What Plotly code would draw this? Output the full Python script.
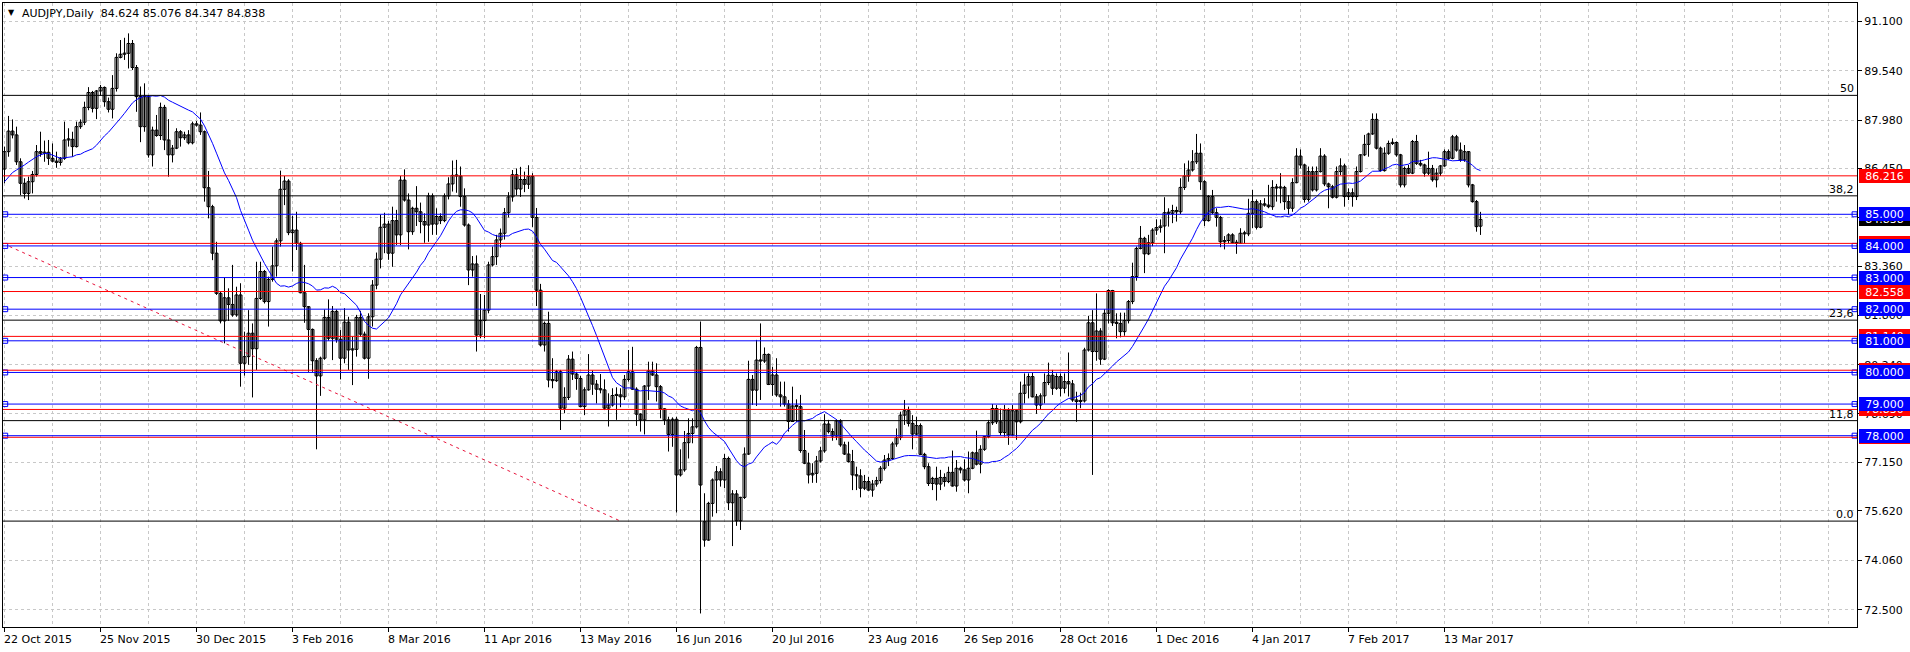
import plotly.graph_objects as go
import pandas as pd

title_text = "AUDJPY,Daily  84.624 85.076 84.347 84.838"

opens = [
86.43,86.98,87.63,87.51,86.66,85.98,85.66,86.03,86.26,86.98,
86.93,86.96,86.77,86.68,86.64,86.77,87.35,87.37,87.14,87.77,
87.91,88.38,88.85,88.35,88.90,89.01,88.56,88.32,88.98,89.96,
90.06,90.09,90.40,89.64,88.72,87.77,88.72,86.88,87.66,87.49,
88.38,87.35,86.88,87.09,87.61,87.42,87.51,87.26,87.86,87.82,
87.61,85.84,85.24,83.77,82.50,81.63,82.36,82.15,81.82,82.45,
80.29,80.50,81.24,80.75,82.34,83.19,82.24,82.94,83.37,84.16,
85.79,86.05,84.42,84.50,84.08,82.52,82.08,81.36,80.37,79.89,
80.45,81.74,81.08,81.93,81.05,80.45,81.59,80.71,80.73,81.74,
81.21,80.45,81.76,82.76,83.58,84.59,84.69,83.77,84.80,84.35,
86.08,85.45,84.45,85.19,85.08,84.77,84.66,85.58,84.69,84.93,
84.80,85.58,85.96,86.23,86.21,85.56,84.66,83.24,83.43,81.18,
81.64,81.97,83.40,83.66,84.19,84.40,85.05,85.55,86.25,85.80,
86.10,85.95,86.20,84.90,82.60,80.87,81.55,79.76,79.74,80.02,
78.87,79.21,80.42,79.95,79.81,78.92,79.45,79.92,79.63,79.47,
79.45,78.87,78.97,79.27,79.29,79.23,79.78,80.02,79.47,78.68,
78.50,79.57,80.05,79.92,79.55,78.85,78.50,78.04,78.52,76.76,
76.92,77.78,78.07,78.28,80.79,75.28,74.70,75.86,76.60,76.86,
76.60,77.28,75.88,76.16,75.31,76.05,77.42,79.78,79.44,80.39,
80.36,80.57,79.62,79.92,79.29,79.23,79.00,78.45,78.94,78.92,
77.53,77.13,76.76,76.81,77.20,77.52,78.37,78.13,77.99,78.47,
77.71,77.42,77.18,76.76,76.73,76.34,76.55,76.28,76.47,76.58,
76.97,77.23,77.28,77.74,77.94,78.65,78.79,78.39,78.05,78.32,
77.41,77.02,76.49,76.65,76.47,76.68,76.55,76.84,76.41,76.97,
76.92,76.60,76.97,77.46,77.10,77.57,77.97,78.41,78.86,78.44,
78.10,78.81,78.02,78.79,78.44,79.34,79.60,79.87,79.23,78.97,
79.26,79.68,79.91,79.50,79.87,79.50,79.71,79.64,79.13,79.08,
79.10,80.71,81.57,80.66,81.31,80.42,81.87,82.59,81.57,81.55,
81.29,81.64,82.24,83.03,83.92,84.24,83.75,84.10,84.50,84.58,
84.63,85.05,85.03,85.12,85.08,85.85,86.21,86.40,86.66,86.93,
86.03,84.80,85.56,85.05,84.90,84.13,84.17,84.35,84.10,84.08,
84.40,84.38,85.03,85.40,84.59,85.33,85.29,85.24,85.85,85.83,
85.85,85.40,85.19,86.00,86.84,86.56,85.47,86.35,85.77,86.35,
86.84,85.96,85.87,85.54,86.35,86.53,85.56,85.68,85.56,86.35,
86.88,87.21,87.54,88.00,87.09,86.38,86.93,87.24,87.27,86.88,
85.93,86.45,86.30,87.30,86.61,86.56,86.30,86.45,86.09,86.30,
86.53,86.98,86.77,87.45,87.03,86.72,86.98,85.93,85.40,84.624]

highs = [
87.14,88.11,88.00,87.77,86.77,86.14,86.19,86.37,87.19,87.61,
87.33,87.35,87.24,86.98,86.81,87.93,87.72,87.61,87.93,88.00,
88.56,89.02,88.90,88.93,89.09,89.04,88.69,89.40,90.09,90.51,
90.58,90.72,90.51,89.72,89.04,89.14,88.77,87.77,88.14,88.53,
88.46,88.01,87.19,87.72,87.66,87.61,87.66,87.93,87.95,88.22,
87.65,86.37,85.30,84.13,82.55,83.00,82.66,83.40,82.71,82.82,
81.29,81.97,81.55,83.50,83.50,83.24,83.03,83.98,84.24,86.38,
86.21,86.11,84.95,85.08,84.13,83.40,82.10,81.39,80.45,80.50,
81.99,82.31,82.10,81.99,81.34,82.03,81.76,81.13,81.82,81.95,
81.29,81.87,82.92,83.79,84.98,85.05,84.79,85.24,85.14,86.21,
86.42,85.66,85.24,85.89,85.37,85.03,85.68,85.66,85.19,85.03,
85.66,86.17,86.70,86.72,86.51,85.82,84.71,83.68,83.70,82.48,
82.45,83.50,83.98,84.35,84.55,85.20,85.70,86.40,86.45,86.50,
86.35,86.55,86.30,85.20,82.80,81.61,81.92,80.45,80.08,80.08,
79.53,80.55,80.66,80.02,79.89,79.53,80.58,80.06,79.76,79.95,
79.78,79.34,79.50,79.53,79.50,79.92,80.71,80.81,79.53,78.71,
79.60,80.34,80.34,80.29,79.60,78.87,78.60,78.58,78.60,77.57,
78.15,78.55,78.55,80.84,81.61,76.18,75.91,76.65,77.04,76.97,
77.42,77.34,76.28,76.28,76.07,77.63,80.37,79.92,81.03,81.55,
80.79,80.60,80.18,80.45,79.71,79.71,79.13,79.55,79.15,79.29,
78.18,77.46,77.13,77.36,77.65,78.68,78.50,78.23,78.52,78.52,
77.81,77.81,77.55,77.02,76.94,76.76,76.70,76.60,76.70,77.04,
77.39,77.44,77.81,78.23,78.76,79.13,78.92,78.65,78.60,78.39,
77.46,77.13,76.70,77.02,76.92,76.81,77.02,77.53,77.23,77.02,
77.25,77.50,77.50,78.16,77.70,77.99,78.50,79.00,78.97,78.86,
78.97,78.87,78.97,78.83,79.71,79.97,79.97,79.99,79.32,79.34,
79.97,80.31,80.08,79.97,79.97,79.97,80.63,79.76,79.39,79.36,
80.78,81.79,81.97,82.50,81.40,82.00,82.63,82.61,81.87,81.89,
81.89,82.29,83.47,83.98,84.63,84.29,84.35,84.56,84.84,84.84,
85.54,85.19,85.30,85.24,86.14,86.61,86.70,87.03,87.54,87.24,
86.08,85.61,85.77,85.19,84.95,84.31,84.40,84.40,84.19,84.56,
84.48,85.49,85.77,85.47,85.45,85.51,85.93,86.08,85.96,86.30,
85.90,85.61,86.14,87.09,87.05,86.60,86.51,86.51,86.51,87.09,
86.90,86.00,85.93,86.51,86.77,86.60,85.82,85.82,86.51,86.90,
87.51,87.58,88.19,88.19,87.14,87.12,87.33,87.40,87.30,86.91,
86.51,86.56,87.35,87.51,86.72,86.60,86.98,86.56,86.45,86.56,
87.05,87.05,87.51,87.51,87.27,87.19,87.00,85.96,85.45,85.076]

lows = [
85.98,86.82,87.40,86.56,85.61,85.50,85.45,85.66,86.19,86.82,
86.66,86.56,86.64,86.47,86.54,86.72,87.14,86.82,87.11,87.70,
87.82,88.29,88.22,88.01,88.75,88.40,88.22,88.03,88.88,89.93,
89.88,89.61,89.56,88.24,87.28,87.61,86.79,86.51,87.45,87.35,
87.03,86.19,86.64,87.06,87.14,87.35,87.21,87.21,87.77,87.51,
85.40,84.87,83.55,82.45,81.55,80.92,81.63,81.76,81.76,79.55,
79.90,80.24,79.21,80.08,82.29,82.18,81.45,82.87,83.03,83.98,
85.29,84.34,83.19,83.87,82.50,81.57,80.02,80.02,77.57,79.26,
80.40,81.00,80.39,80.94,79.78,80.29,80.08,79.60,80.50,81.13,
80.41,79.80,81.45,82.63,83.29,83.77,83.56,83.34,84.03,84.03,
85.40,83.89,84.35,84.63,84.40,84.10,84.13,84.35,84.35,84.69,
84.75,85.47,85.72,85.68,85.24,84.61,82.76,83.03,80.66,81.08,
81.08,81.87,83.35,83.40,83.95,84.20,84.90,85.40,85.60,85.55,
85.70,85.80,84.60,82.10,80.82,80.66,79.53,79.50,79.70,78.18,
78.71,79.13,79.76,79.45,78.90,78.65,79.42,79.29,79.02,79.34,
78.81,78.29,78.92,78.50,78.90,79.13,79.71,79.45,78.31,78.13,
78.04,79.13,79.89,79.08,78.55,78.34,77.50,77.65,75.57,76.71,
76.86,77.28,77.76,78.23,72.38,74.49,74.68,75.44,75.55,76.39,
76.34,75.65,74.51,75.15,75.02,76.00,77.39,78.97,78.94,79.13,
80.30,79.60,79.26,79.23,78.92,78.92,78.13,78.44,78.44,77.46,
77.10,76.49,76.51,76.51,77.15,77.46,78.07,77.84,77.86,77.65,
77.39,77.15,76.28,76.28,76.05,76.28,76.26,76.07,76.39,76.49,
76.90,77.04,77.23,77.65,77.86,78.34,78.29,77.57,78.02,77.39,
76.94,76.41,76.28,75.95,76.28,76.39,76.50,76.39,76.23,76.81,
76.55,76.18,76.94,77.06,76.81,77.52,77.92,78.34,78.37,78.02,
77.97,77.71,77.99,77.87,78.39,79.02,79.18,79.21,78.69,78.83,
79.02,79.60,79.29,79.45,79.24,79.34,79.24,79.07,78.44,78.87,
79.05,80.66,76.76,80.37,80.24,80.39,81.55,81.47,81.08,81.11,
81.16,81.55,82.16,82.90,83.89,83.14,83.71,83.99,84.35,84.42,
83.77,84.61,84.72,84.77,85.01,85.77,86.03,86.35,86.59,85.77,
84.63,84.77,85.01,84.61,83.96,83.89,84.08,84.08,83.75,84.06,
84.08,84.31,84.56,84.52,84.56,85.24,85.19,85.14,85.40,85.35,
85.14,84.98,85.08,85.98,86.45,85.37,85.40,85.72,85.72,86.32,
85.89,85.19,85.50,85.50,86.24,85.24,85.45,85.24,85.45,86.32,
86.84,86.82,87.51,87.05,86.35,86.35,86.88,87.19,86.82,85.85,
85.85,86.27,86.27,86.56,86.51,86.19,86.24,86.03,85.85,86.21,
86.50,86.72,86.74,86.98,86.66,86.66,85.85,85.37,84.45,84.347]

closes = [
86.98,87.63,87.51,86.66,85.98,85.66,86.03,86.26,86.98,86.93,
86.96,86.77,86.68,86.64,86.77,87.35,87.37,87.14,87.77,87.91,
88.38,88.85,88.35,88.90,89.01,88.56,88.32,88.98,89.96,90.06,
90.09,90.40,89.64,88.72,87.77,88.72,86.88,87.66,87.49,88.38,
87.35,86.88,87.09,87.61,87.42,87.51,87.26,87.86,87.82,87.61,
85.84,85.24,83.77,82.50,81.63,82.36,82.15,81.82,82.45,80.29,
80.50,81.24,80.75,82.34,83.19,82.24,82.94,83.37,84.16,85.79,
86.05,84.42,84.50,84.08,82.52,82.08,81.36,80.37,79.89,80.45,
81.74,81.08,81.93,81.05,80.45,81.59,80.71,80.73,81.74,81.21,
80.45,81.76,82.76,83.58,84.59,84.69,83.77,84.80,84.35,86.08,
85.45,84.45,85.19,85.08,84.77,84.66,85.58,84.69,84.93,84.80,
85.58,85.96,86.23,86.21,85.56,84.66,83.24,83.43,81.18,81.64,
81.97,83.40,83.66,84.19,84.40,85.05,85.55,86.25,85.80,86.10,
85.95,86.20,84.90,82.60,80.87,81.55,79.76,79.74,80.02,78.87,
79.21,80.42,79.95,79.81,78.92,79.45,79.92,79.63,79.47,79.45,
78.87,78.97,79.27,79.29,79.23,79.78,80.02,79.47,78.68,78.50,
79.57,80.05,79.92,79.55,78.85,78.50,78.04,78.52,76.76,76.92,
77.78,78.07,78.28,80.79,76.44,74.70,75.86,76.60,76.86,76.60,
77.28,75.88,76.16,75.31,76.05,77.42,79.78,79.44,80.39,80.36,
80.57,79.62,79.92,79.29,79.23,79.00,78.45,78.94,78.92,77.53,
77.13,76.76,76.81,77.20,77.52,78.37,78.13,77.99,78.47,77.71,
77.42,77.18,76.76,76.73,76.34,76.55,76.28,76.47,76.58,76.97,
77.23,77.28,77.74,77.94,78.65,78.79,78.39,78.05,78.32,77.41,
77.02,76.49,76.65,76.47,76.68,76.55,76.84,76.41,76.97,76.92,
76.60,76.97,77.46,77.10,77.57,77.97,78.41,78.86,78.44,78.10,
78.81,78.02,78.79,78.44,79.34,79.60,79.87,79.23,78.97,79.26,
79.68,79.91,79.50,79.87,79.50,79.71,79.64,79.13,79.08,79.10,
80.71,81.57,80.66,81.31,80.42,81.87,82.59,81.57,81.55,81.29,
81.64,82.24,83.03,83.92,84.24,83.75,84.10,84.50,84.58,84.63,
85.05,85.03,85.12,85.08,85.85,86.21,86.40,86.66,86.93,86.03,
84.80,85.56,85.05,84.90,84.13,84.17,84.35,84.10,84.08,84.40,
84.38,85.03,85.40,84.59,85.33,85.29,85.24,85.85,85.83,85.85,
85.40,85.19,86.00,86.84,86.56,85.47,86.35,85.77,86.35,86.84,
85.96,85.87,85.54,86.35,86.53,85.56,85.68,85.56,86.35,86.88,
87.21,87.54,88.00,87.09,86.38,86.93,87.24,87.27,86.88,85.93,
86.45,86.30,87.30,86.61,86.56,86.30,86.45,86.09,86.30,86.53,
86.98,86.77,87.45,87.03,86.72,86.98,85.93,85.40,84.61,84.838]

# moving average values at the first bars (its history starts before the window)
ma_head = [86.03,86.17,86.32,86.40,86.47,86.56,86.65,86.75,86.82,86.88,
           86.92,86.92,86.88,86.82,86.77,86.78,86.80,86.82,86.88]
MA_PERIOD = 20

date_label_bars = [0,24,48,72,96,120,144,168,192,216,240,264,288,312,336,360]
date_labels = ["22 Oct 2015","25 Nov 2015","30 Dec 2015","3 Feb 2016","8 Mar 2016",
               "11 Apr 2016","13 May 2016","16 Jun 2016","20 Jul 2016","23 Aug 2016",
               "26 Sep 2016","28 Oct 2016","1 Dec 2016","4 Jan 2017","7 Feb 2017","13 Mar 2017"]
grid_bars = list(range(0, 460, 12))

price_ticks = [91.100,89.540,87.980,86.450,84.890,83.360,81.800,80.240,78.690,77.150,75.620,74.060,72.500]

blue_levels = [85.000,84.000,83.000,82.000,81.000,80.000,79.000,78.000]
red_levels = [86.216,84.080,82.558,81.140,80.070,78.830,77.950]

fib_high = 102.22
fib_low = 75.30
fib_ratios = [0.0, 0.118, 0.236, 0.382, 0.5]
fib_texts = ["0.0", "11,8", "23,6", "38,2", "50"]
fib_anchor_bars = [-319.6, 154.0]

X_RANGE = [-0.375, 463.125]
Y_RANGE = [71.952, 91.680]

FONT = "DejaVu Sans"
BLUE = "#0000ff"
RED = "#ff0000"
GRID = "#c8c8c8"

n = len(closes)
idx = list(range(n))

fig = go.Figure()

# wicks
wx, wy = [], []
for i in idx:
    wx += [i, i, None]
    wy += [lows[i], highs[i], None]
fig.add_trace(go.Scatter(x=wx, y=wy, mode="lines", line=dict(color="black", width=1),
                         hoverinfo="skip", showlegend=False))

# bodies
base = [min(o, c) for o, c in zip(opens, closes)]
height = [max(abs(c - o), 0.035) for o, c in zip(opens, closes)]
fills = ["#ffffff" if c >= o else "#a0a0a0" for o, c in zip(opens, closes)]
fig.add_trace(go.Bar(x=idx, y=height, base=base, width=0.75,
                     marker=dict(color=fills, line=dict(color="black", width=1)),
                     hoverinfo="skip", showlegend=False))

# moving average
ma = pd.Series(closes).rolling(MA_PERIOD).mean().tolist()
for i, v in enumerate(ma_head):
    ma[i] = v
fig.add_trace(go.Scatter(x=idx, y=ma, mode="lines", line=dict(color=BLUE, width=1),
                         hoverinfo="skip", showlegend=False))

# fibonacci trend line
fig.add_trace(go.Scatter(x=fib_anchor_bars, y=[fib_high, fib_low], mode="lines",
                         line=dict(color="#e8143c", width=1, dash="3px,4px"),
                         hoverinfo="skip", showlegend=False))

shapes = []
fib_levels = [fib_low + r * (fib_high - fib_low) for r in fib_ratios]
for lv in fib_levels:
    shapes.append(dict(type="line", xref="paper", x0=0, x1=1, yref="y", y0=lv, y1=lv,
                       line=dict(color="black", width=1), layer="above"))
for lv in red_levels:
    shapes.append(dict(type="line", xref="paper", x0=0, x1=1, yref="y", y0=lv, y1=lv,
                       line=dict(color=RED, width=1), layer="above"))
for lv in blue_levels:
    shapes.append(dict(type="line", xref="paper", x0=0, x1=1, yref="y", y0=lv, y1=lv,
                       line=dict(color=BLUE, width=1), layer="above"))

# end markers of horizontal line objects
sq_x, sq_y = [], []
for lv in blue_levels:
    sq_x += [X_RANGE[0] + 0.55, X_RANGE[1] - 0.6]
    sq_y += [lv, lv]
fig.add_trace(go.Scatter(x=sq_x, y=sq_y, mode="markers", cliponaxis=False,
                         marker=dict(symbol="square", size=5, color="white",
                                     line=dict(color=BLUE, width=1)),
                         hoverinfo="skip", showlegend=False))

ann = []
# title
ann.append(dict(xref="paper", yref="paper", x=0, y=1, xanchor="center", yanchor="middle",
                xshift=8, yshift=-9, text="▼", showarrow=False,
                font=dict(family=FONT, size=8, color="black")))
ann.append(dict(xref="paper", yref="paper", x=0, y=1, xanchor="left", yanchor="middle",
                xshift=17, yshift=-10, text=title_text, showarrow=False,
                font=dict(family=FONT, size=11, color="black")))
# date labels
for b, t in zip(date_label_bars, date_labels):
    ann.append(dict(xref="x", yref="paper", x=b, y=0, xanchor="left", yanchor="top",
                    xshift=-3, yshift=-4, text=t, showarrow=False,
                    font=dict(family=FONT, size=11, color="black")))
# fib level texts
for lv, t in zip(fib_levels, fib_texts):
    ann.append(dict(xref="paper", yref="y", x=1, y=lv, xanchor="right", yanchor="bottom",
                    xshift=-1, yshift=-2, text=t, showarrow=False,
                    font=dict(family=FONT, size=11, color="black")))

def price_box(level, bg):
    return dict(xref="paper", yref="y", x=1, y=level, xanchor="left", yanchor="middle",
                xshift=2, text=f"{level:.3f}", showarrow=False, width=51, height=14,
                bgcolor=bg, borderpad=0, borderwidth=0, align="center",
                font=dict(family=FONT, size=11, color="white"))

ann.append(price_box(closes[-1], "black"))
for lv in red_levels:
    ann.append(price_box(lv, RED))
for lv in blue_levels:
    ann.append(price_box(lv, BLUE))

fig.update_layout(
    width=1910, height=652,
    margin=dict(l=3, r=53, t=3, b=25, pad=0),
    paper_bgcolor="white", plot_bgcolor="white",
    showlegend=False, barmode="overlay",
    font=dict(family=FONT, size=11, color="black"),
    shapes=shapes, annotations=ann,
    xaxis=dict(range=X_RANGE, tickmode="array", tickvals=date_label_bars,
               ticktext=[""] * len(date_label_bars), ticks="outside", ticklen=4,
               tickcolor="black", showgrid=True, gridcolor=GRID, griddash="3px,3px",
               gridwidth=1,
               minor=dict(tickmode="array", tickvals=grid_bars, showgrid=True,
                          gridcolor=GRID, griddash="3px,3px", gridwidth=1, ticks=""),
               showline=True, linecolor="black", linewidth=1, mirror=True,
               zeroline=False, fixedrange=True),
    yaxis=dict(range=Y_RANGE, side="right", tickmode="array", tickvals=price_ticks,
               ticktext=[f"{p:.3f}" for p in price_ticks], ticks="outside", ticklen=4,
               tickcolor="black", showgrid=True, gridcolor=GRID, griddash="3px,3px",
               gridwidth=1, showline=True, linecolor="black", linewidth=1, mirror=True,
               zeroline=False, fixedrange=True,
               tickfont=dict(family=FONT, size=11, color="black")),
)

fig.write_html("out.html")
